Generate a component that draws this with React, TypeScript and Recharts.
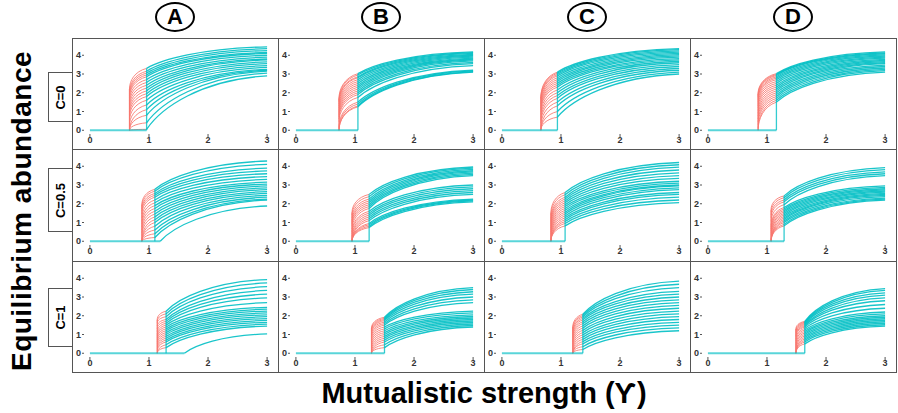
import { LineChart, Line, XAxis, YAxis } from "recharts";

// each curve: [abundance where red branch starts, abundance at the jump, abundance at Ƴ=3]
const a0 = [
  [0, 0.05, 2.9], [0, 0.4, 3.05], [0, 0.8, 3.15], [0, 1.1, 3.2], [0.25, 1.35, 3.25], [0.5, 1.6, 3.35],
  [0.7, 1.8, 3.45], [0.85, 1.95, 3.55], [1.0, 2.1, 3.65], [1.15, 2.25, 3.75], [1.3, 2.4, 3.8], [1.45, 2.55, 3.9],
  [1.6, 2.7, 4.0], [1.75, 2.85, 4.1], [1.85, 2.95, 4.15], [1.95, 3.05, 4.25], [2.05, 3.15, 4.35], [2.2, 3.3, 4.45],
];
const b0 = [
  [0, 1.25, 3.1], [0, 1.3, 3.13], [0.1, 1.4, 3.17], [0.2, 1.5, 3.2], [0.45, 1.75, 3.45], [0.6, 1.9, 3.55],
  [0.7, 2.0, 3.62], [0.8, 2.1, 3.7], [0.9, 2.2, 3.75], [1.0, 2.3, 3.8], [1.1, 2.4, 3.85], [1.2, 2.5, 3.9],
  [1.3, 2.6, 3.95], [1.4, 2.7, 4.0], [1.5, 2.8, 4.05], [1.55, 2.85, 4.1], [1.62, 2.95, 4.14], [1.7, 3.02, 4.18],
];
const c0 = [
  [0, 0.7, 3.0], [0, 1.0, 3.1], [0, 1.3, 3.2], [0.2, 1.5, 3.3], [0.38, 1.7, 3.4], [0.53, 1.85, 3.5],
  [0.68, 2.0, 3.6], [0.83, 2.15, 3.68], [0.98, 2.3, 3.75], [1.08, 2.4, 3.82], [1.18, 2.5, 3.9], [1.28, 2.6, 3.97],
  [1.38, 2.7, 4.03], [1.48, 2.8, 4.1], [1.58, 2.9, 4.17], [1.65, 2.97, 4.23], [1.72, 3.04, 4.3], [1.78, 3.1, 4.35],
];
const d0 = [
  [0, 1.5, 3.1], [0.1, 1.6, 3.18], [0.3, 1.7, 3.25], [0.45, 1.8, 3.32], [0.6, 1.9, 3.4], [0.75, 2.0, 3.47],
  [0.9, 2.1, 3.55], [1.05, 2.2, 3.6], [1.2, 2.3, 3.66], [1.3, 2.4, 3.72], [1.42, 2.5, 3.78], [1.52, 2.6, 3.85],
  [1.62, 2.7, 3.9], [1.7, 2.78, 3.96], [1.77, 2.85, 4.02], [1.84, 2.92, 4.08], [1.9, 2.97, 4.13], [1.95, 3.02, 4.18],
];
const a1 = [
  [0, 0.2, 2.2], [0, 0.4, 2.25], [0, 0.6, 2.35], [0, 0.8, 2.45], [0, 1.0, 2.55], [0.1, 1.15, 2.65],
  [0.3, 1.3, 2.75], [0.45, 1.45, 2.85], [0.6, 1.6, 2.95], [0.75, 1.75, 3.05], [0.9, 1.9, 3.15], [1.05, 2.05, 3.3],
  [1.25, 2.2, 3.45], [1.45, 2.35, 3.6], [1.6, 2.45, 3.75], [1.72, 2.55, 3.9], [1.85, 2.67, 4.1], [1.97, 2.77, 4.28],
];
const b1 = [
  [0, 0.73, 2.1], [0, 0.8, 2.15], [0, 0.88, 2.2], [0, 0.95, 2.25], [0, 1.1, 2.5], [0.05, 1.2, 2.6],
  [0.15, 1.3, 2.7], [0.25, 1.4, 2.8], [0.4, 1.5, 2.9], [0.5, 1.6, 3.0], [0.65, 1.75, 3.5], [0.8, 1.85, 3.57],
  [0.9, 1.95, 3.63], [1.0, 2.05, 3.7], [1.1, 2.15, 3.76], [1.25, 2.25, 3.83], [1.4, 2.38, 3.9], [1.53, 2.5, 3.96],
];
const c1 = [
  [0, 0.82, 2.06], [0, 0.95, 2.2], [0, 1.05, 2.35], [0, 1.15, 2.5], [0.1, 1.25, 2.6], [0.2, 1.35, 2.75],
  [0.3, 1.45, 2.85], [0.4, 1.55, 2.95], [0.5, 1.65, 3.0], [0.6, 1.75, 3.1], [0.7, 1.85, 3.2], [0.8, 1.95, 3.35],
  [0.9, 2.05, 3.5], [1.0, 2.15, 3.65], [1.1, 2.25, 3.8], [1.22, 2.35, 3.95], [1.38, 2.48, 4.08], [1.53, 2.6, 4.2],
];
const d1 = [
  [0, 0.82, 2.19], [0, 0.9, 2.25], [0, 1.0, 2.3], [0, 1.08, 2.38], [0.05, 1.16, 2.45], [0.15, 1.24, 2.5],
  [0.25, 1.32, 2.55], [0.35, 1.4, 2.62], [0.45, 1.48, 2.68], [0.55, 1.56, 2.74], [0.65, 1.64, 2.8], [0.75, 1.72, 2.87],
  [0.85, 1.8, 2.95], [1.05, 1.95, 3.5], [1.25, 2.1, 3.6], [1.4, 2.2, 3.7], [1.55, 2.32, 3.82], [1.7, 2.42, 3.93],
];
const a2 = [
  [0, 0.3, 1.45], [0, 0.45, 1.55], [0.1, 0.6, 1.65], [0.2, 0.7, 1.75], [0.3, 0.8, 1.85], [0.4, 0.9, 1.95],
  [0.5, 1.0, 2.05], [0.6, 1.1, 2.15], [0.7, 1.2, 2.25], [0.8, 1.3, 2.35], [0.9, 1.4, 2.45], [1.0, 1.5, 2.7],
  [1.15, 1.6, 2.95], [1.3, 1.7, 3.15], [1.45, 1.8, 3.35], [1.6, 1.95, 3.55], [1.7, 2.1, 3.75], [1.8, 2.24, 3.93],
];
const b2 = [
  [0, 0.3, 1.4], [0, 0.45, 1.48], [0, 0.6, 1.56], [0.1, 0.7, 1.64], [0.2, 0.8, 1.72], [0.3, 0.9, 1.8],
  [0.4, 1.0, 1.88], [0.5, 1.1, 1.96], [0.6, 1.2, 2.05], [0.7, 1.3, 2.15], [0.8, 1.4, 2.25], [0.9, 1.5, 2.7],
  [1.0, 1.58, 2.85], [1.08, 1.66, 3.0], [1.15, 1.74, 3.15], [1.22, 1.8, 3.28], [1.28, 1.86, 3.4], [1.35, 1.92, 3.5],
];
const c2 = [
  [0, 0.2, 1.2], [0, 0.35, 1.35], [0, 0.5, 1.5], [0, 0.62, 1.65], [0.1, 0.74, 1.8], [0.2, 0.86, 1.95],
  [0.3, 0.98, 2.1], [0.4, 1.1, 2.25], [0.5, 1.22, 2.4], [0.6, 1.34, 2.55], [0.7, 1.46, 2.7], [0.8, 1.58, 2.85],
  [0.9, 1.68, 3.0], [1.0, 1.78, 3.15], [1.1, 1.86, 3.3], [1.2, 1.94, 3.5], [1.3, 2.01, 3.68], [1.4, 2.08, 3.85],
];
const d2 = [
  [0, 0.5, 1.45], [0, 0.6, 1.52], [0, 0.68, 1.6], [0.05, 0.76, 1.68], [0.15, 0.84, 1.76], [0.25, 0.92, 1.84],
  [0.35, 1.0, 1.92], [0.45, 1.08, 2.0], [0.55, 1.16, 2.1], [0.65, 1.24, 2.2], [0.75, 1.32, 2.4], [0.85, 1.4, 2.6],
  [0.92, 1.46, 2.8], [1.0, 1.52, 2.95], [1.08, 1.57, 3.1], [1.15, 1.62, 3.22], [1.22, 1.66, 3.35], [1.3, 1.7, 3.45],
];

const panelCurves = [
  [a0, b0, c0, d0],
  [a1, b1, c1, d1],
  [a2, b2, c2, d2],
];
// Ƴ where the red (backward) branch collapses, and where the teal (forward) branch jumps up
const collapseX = [
  [0.67, 0.73, 0.66, 0.85],
  [0.88, 0.95, 0.83, 1.07],
  [1.14, 1.28, 1.2, 1.49],
];
const jumpX = [
  [0.96, 1.05, 0.94, 1.16],
  [1.1, 1.24, 1.07, 1.29],
  [1.29, 1.5, 1.37, 1.64],
];
// a last species that stays at zero a while after the jump: [start Ƴ, value at 3]
const lateCurve: (number[] | null)[][] = [
  [null, null, null, null],
  [[1.19, 1.88], null, null, null],
  [[1.6, 1.03], null, null, null],
];

const colLetters = ["A", "B", "C", "D"];
const rowLabels = ["C=0", "C=0.5", "C=1"];
const xTicks = [0, 1, 2, 3];
const yTicks = [0, 1, 2, 3, 4];

const TEAL = "#00BFC4";
const RED = "#F8766D";
const FONT = "'Liberation Sans', Arial, sans-serif";

const colLeft = [72, 278, 484, 690];
const rowTop = [38, 149, 261];
const PW = 206;
const PH = 111;

// bezier segment between consecutive points, bent like a saturating response
const bend = (c1x: number, c1y: number, c2x: number, c2y: number) => (ctx: any) => {
  let pts: number[][] = [];
  return {
    areaStart() {},
    areaEnd() {},
    lineStart() {
      pts = [];
    },
    lineEnd() {
      pts.forEach(([x, y], i) => {
        if (i === 0) {
          ctx.moveTo(x, y);
          return;
        }
        const [px, py] = pts[i - 1];
        const dx = x - px;
        const dy = y - py;
        ctx.bezierCurveTo(px + c1x * dx, py + c1y * dy, px + c2x * dx, py + c2y * dy, x, y);
      });
    },
    point(x: number, y: number) {
      pts.push([+x, +y]);
    },
  };
};
const tealCurve = bend(0.12, 0.4, 0.45, 0.93);
const redCurve = bend(0, 0.4, 0.3, 0.85);

const tickStyle = { fontSize: 9, fontWeight: 700, fill: "#333", fontFamily: FONT };

function Panel({ row, col }: { row: number; col: number }) {
  const curves = panelCurves[row][col];
  const xr = collapseX[row][col];
  const xc = jumpX[row][col];
  const late = lateCurve[row][col];
  const maxR = Math.max(...curves.map((c) => c[0]));
  const maxB = Math.max(...curves.map((c) => c[1]));
  const zeroEnd = late ? late[0] : xc;
  return (
    <LineChart width={PW} height={PH} margin={{ top: 6, right: 5, left: 0, bottom: 0 }}>
      <XAxis
        type="number"
        dataKey="x"
        domain={[-0.1, 3.1]}
        ticks={xTicks}
        height={15}
        axisLine={false}
        tickSize={3}
        tickMargin={0}
        tickLine={{ stroke: "#555" }}
        tick={tickStyle}
        allowDataOverflow
      />
      <YAxis
        type="number"
        dataKey="y"
        domain={[-0.2, 4.6]}
        ticks={yTicks}
        width={12}
        axisLine={false}
        tickSize={2}
        tickMargin={1}
        tickLine={{ stroke: "#555" }}
        tick={tickStyle}
        allowDataOverflow
      />
      {curves.map((c, i) => (
        <Line
          key={"r" + i}
          data={[{ x: xr, y: c[0] }, { x: xc, y: c[1] }]}
          dataKey="y"
          type={redCurve as any}
          stroke={RED}
          strokeOpacity={0.85}
          strokeWidth={1}
          dot={false}
          activeDot={false}
          isAnimationActive={false}
        />
      ))}
      <Line
        data={[{ x: xr, y: 0 }, { x: xr, y: maxR }]}
        dataKey="y"
        type="linear"
        stroke={RED}
        strokeWidth={1.2}
        dot={false}
        activeDot={false}
        isAnimationActive={false}
      />
      <Line
        data={[{ x: 0, y: 0 }, { x: zeroEnd, y: 0 }]}
        dataKey="y"
        type="linear"
        stroke={TEAL}
        strokeOpacity={0.65}
        strokeWidth={2}
        dot={false}
        activeDot={false}
        isAnimationActive={false}
      />
      <Line
        data={[{ x: xc, y: 0 }, { x: xc, y: maxB }]}
        dataKey="y"
        type="linear"
        stroke={TEAL}
        strokeOpacity={0.8}
        strokeWidth={1.3}
        dot={false}
        activeDot={false}
        isAnimationActive={false}
      />
      {curves.map((c, i) => (
        <Line
          key={"t" + i}
          data={[{ x: xc, y: c[1] }, { x: 3, y: c[2] }]}
          dataKey="y"
          type={tealCurve as any}
          stroke={TEAL}
          strokeOpacity={0.9}
          strokeWidth={1.3}
          dot={false}
          activeDot={false}
          isAnimationActive={false}
        />
      ))}
      {late && (
        <Line
          data={[{ x: late[0], y: 0 }, { x: 3, y: late[1] }]}
          dataKey="y"
          type={tealCurve as any}
          stroke={TEAL}
          strokeOpacity={0.9}
          strokeWidth={1.3}
          dot={false}
          activeDot={false}
          isAnimationActive={false}
        />
      )}
    </LineChart>
  );
}

const rowBox = [
  { top: 72, height: 50 },
  { top: 168, height: 64 },
  { top: 288, height: 59 },
];

export default function App() {
  return (
    <div
      style={{
        position: "absolute",
        left: 0,
        top: 0,
        width: 898,
        height: 413,
        background: "#fff",
        fontFamily: FONT,
        color: "#000",
        overflow: "hidden",
      }}
    >
      {colLetters.map((l, c) => (
        <div
          key={l}
          style={{
            position: "absolute",
            left: colLeft[c] + PW / 2 - 20,
            top: 2,
            width: 40,
            height: 30,
            boxSizing: "border-box",
            border: "2px solid #000",
            borderRadius: "50%",
            display: "flex",
            alignItems: "center",
            justifyContent: "center",
            fontSize: 22,
            fontWeight: 700,
          }}
        >
          {l}
        </div>
      ))}

      {rowTop.map((t, r) =>
        colLeft.map((l, c) => (
          <div key={r + "-" + c} style={{ position: "absolute", left: l, top: t, width: PW, height: PH }}>
            <Panel row={r} col={c} />
          </div>
        ))
      )}

      {rowTop.map((t, r) =>
        colLeft.map((l, c) => (
          <div
            key={"b" + r + "-" + c}
            style={{
              position: "absolute",
              left: l,
              top: t,
              width: PW + 1,
              height: (r < 2 ? rowTop[r + 1] - t : PH) + 1,
              boxSizing: "border-box",
              border: "1px solid #555",
              pointerEvents: "none",
            }}
          />
        ))
      )}

      {rowLabels.map((lab, r) => (
        <div
          key={lab}
          style={{
            position: "absolute",
            left: 48,
            top: rowBox[r].top,
            width: 25,
            height: rowBox[r].height,
            boxSizing: "border-box",
            border: "1px solid #555",
            background: "#fff",
            display: "flex",
            alignItems: "center",
            justifyContent: "center",
          }}
        >
          <div style={{ transform: "rotate(-90deg)", fontSize: 13, fontWeight: 700, whiteSpace: "nowrap" }}>{lab}</div>
        </div>
      ))}

      <div
        style={{
          position: "absolute",
          left: 22,
          top: 211,
          transform: "translate(-50%, -50%) rotate(-90deg)",
          fontSize: 28,
          fontWeight: 700,
          letterSpacing: 0.5,
          whiteSpace: "nowrap",
        }}
      >
        Equilibrium abundance
      </div>

      <div
        style={{
          position: "absolute",
          left: 484,
          top: 393,
          transform: "translate(-50%, -50%)",
          fontSize: 29,
          fontWeight: 700,
          whiteSpace: "nowrap",
        }}
      >
        Mutualistic strength (Ƴ)
      </div>
    </div>
  );
}
